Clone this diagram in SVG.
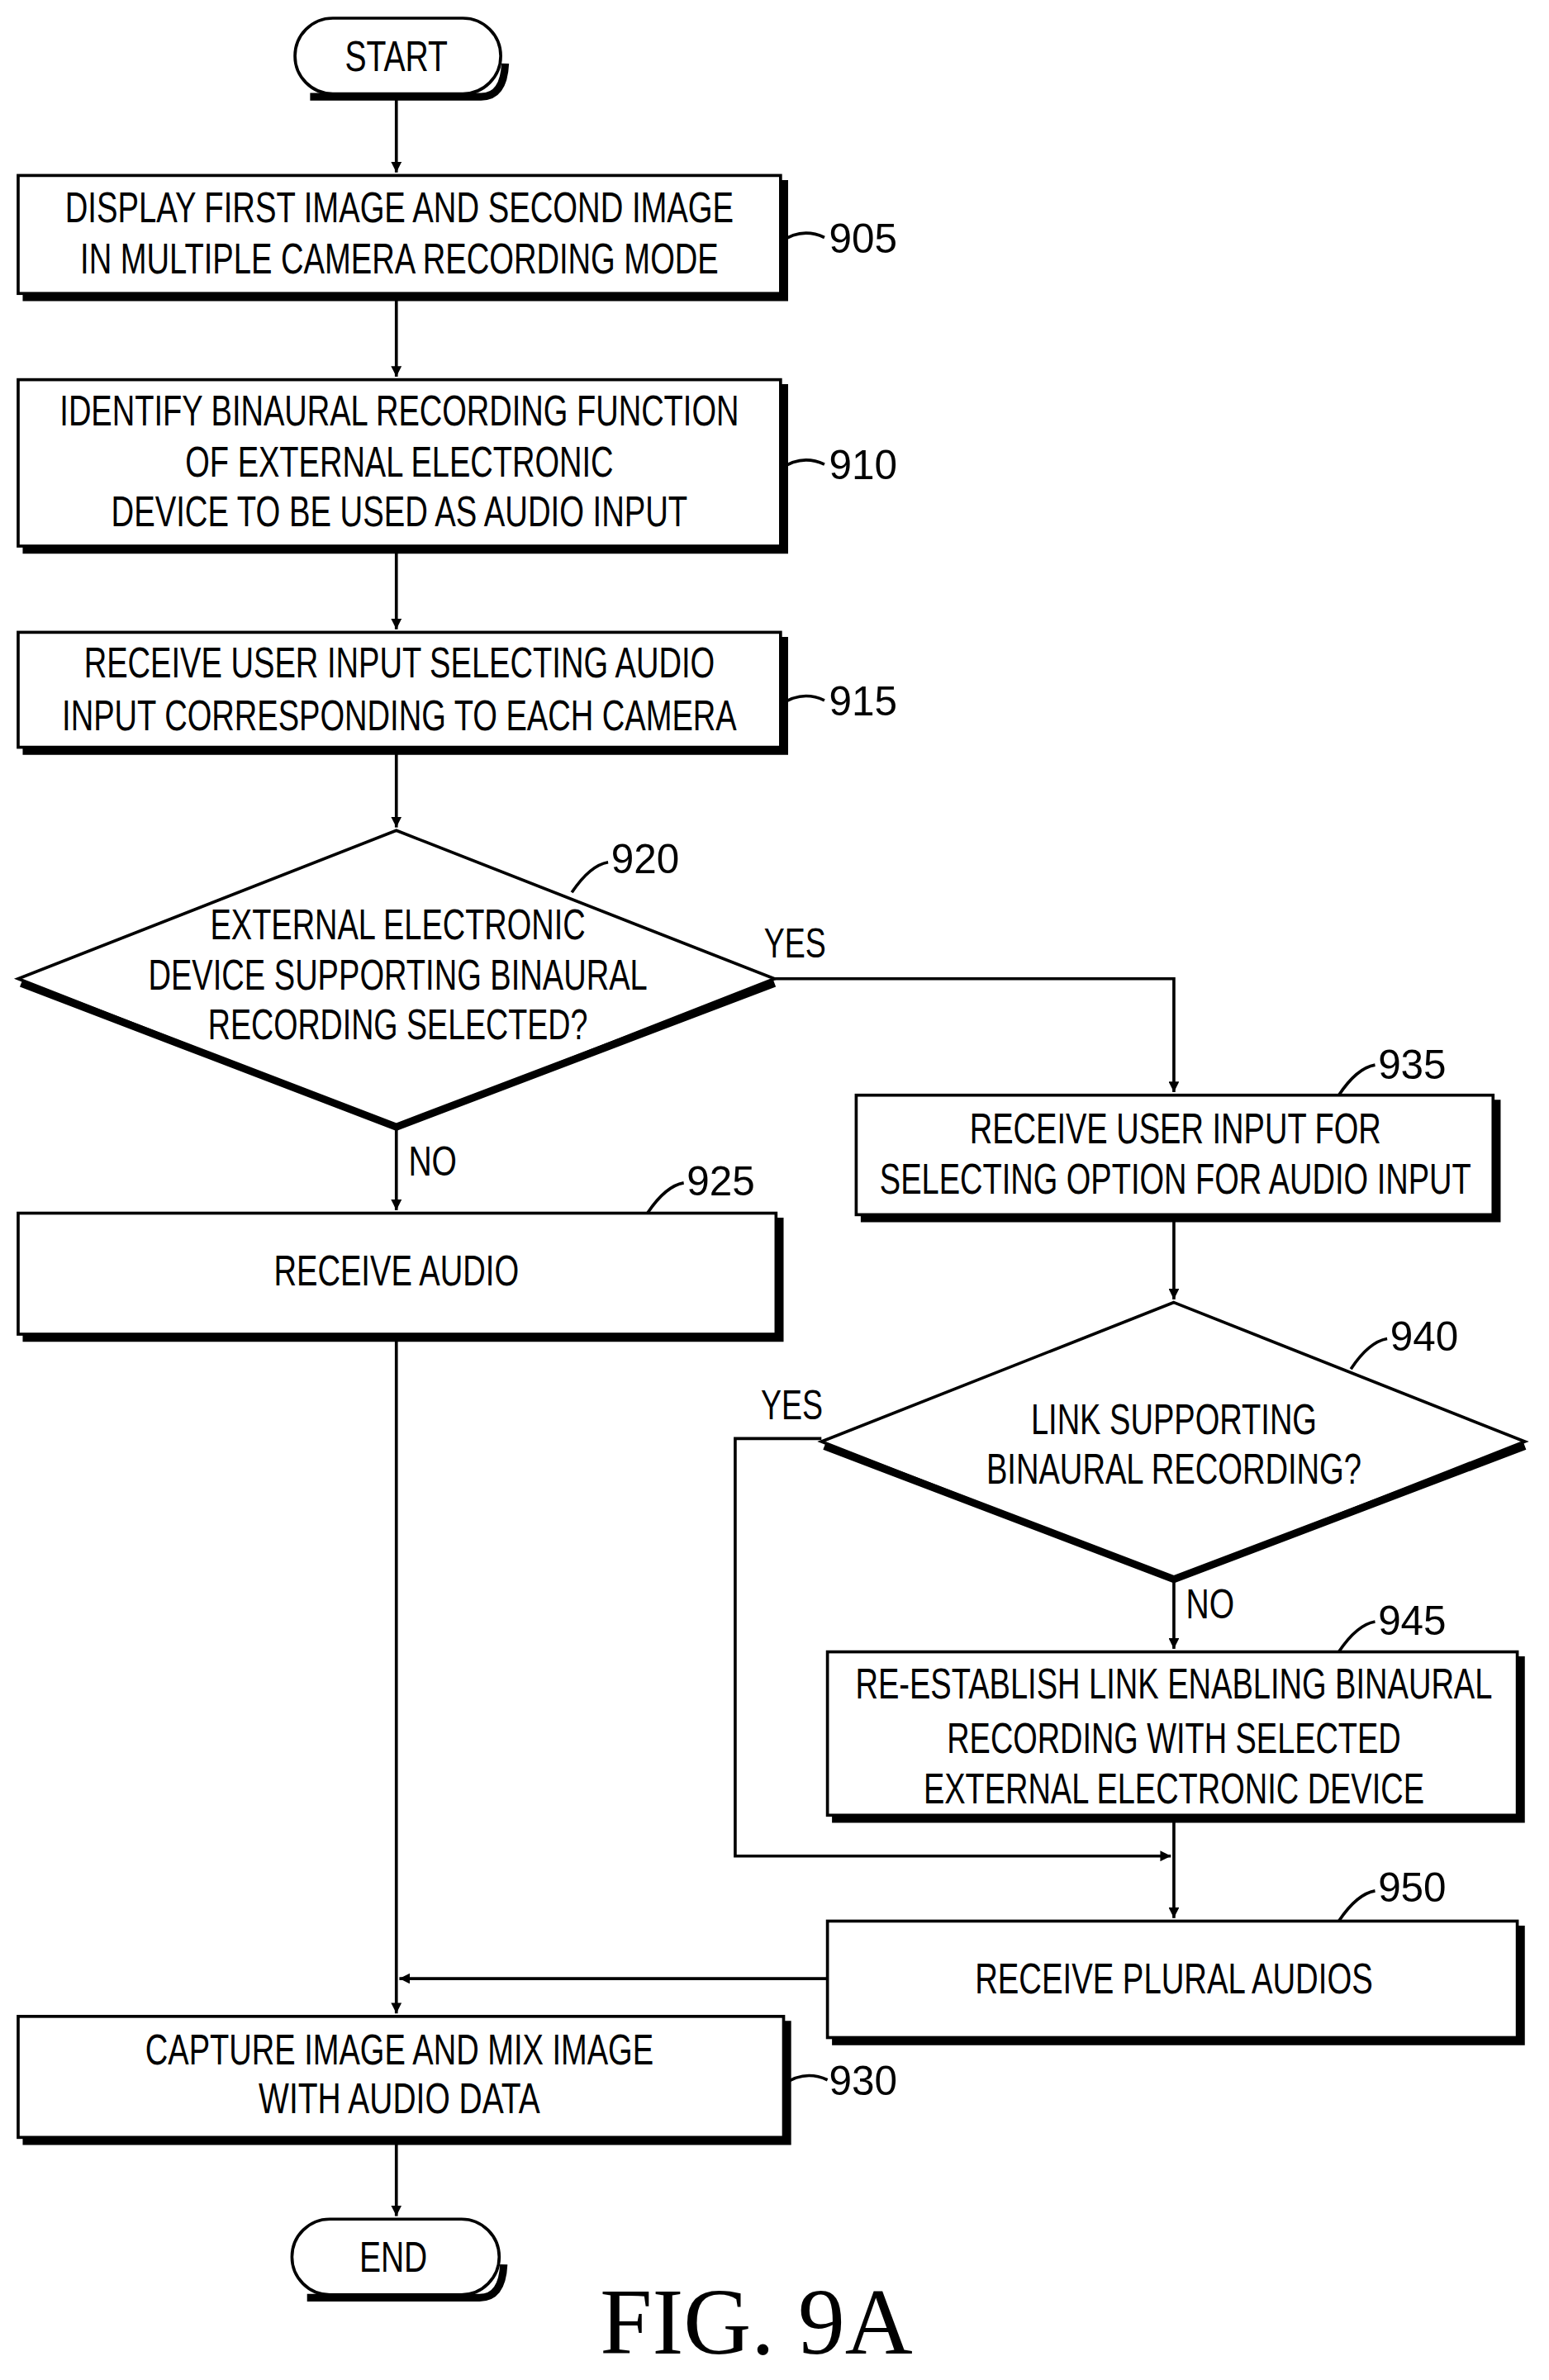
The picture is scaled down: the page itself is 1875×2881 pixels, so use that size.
<svg xmlns="http://www.w3.org/2000/svg" width="1875" height="2881" viewBox="0 0 1875 2881">
<style>
.b{fill:#fff;stroke:#000;stroke-width:2}
.s{fill:none;stroke:#000;stroke-width:5}
.t{font-family:"Liberation Sans Narrow","Liberation Sans",Arial,sans-serif;font-size:28px;text-anchor:middle;fill:#000}
.l{font-family:"Liberation Sans Narrow","Liberation Sans",Arial,sans-serif;font-size:27px;fill:#000}
.c{fill:none;stroke:#000;stroke-width:2}
</style>
<defs><marker id="a" viewBox="0 0 10 10" refX="10" refY="5" markerWidth="7" markerHeight="7" orient="auto" markerUnits="userSpaceOnUse"><path d="M0,0L10,5L0,10z"/></marker></defs>
<rect width="1875" height="2881" fill="#fff"/>
<g transform="scale(1.8311)">
<g id="connectors" class="c">
<path d="M262,62V114" marker-end="url(#a)"/>
<path d="M262,196V249" marker-end="url(#a)"/>
<path d="M262,363V416" marker-end="url(#a)"/>
<path d="M262,496V547" marker-end="url(#a)"/>
<path d="M512,647H776V722" marker-end="url(#a)"/>
<path d="M262,745V800" marker-end="url(#a)"/>
<path d="M262,884V1331" marker-end="url(#a)"/>
<path d="M776,805V859" marker-end="url(#a)"/>
<path d="M543,951H486V1227H774" marker-end="url(#a)"/>
<path d="M776,1044V1090" marker-end="url(#a)"/>
<path d="M776,1202V1268" marker-end="url(#a)"/>
<path d="M547,1308H264" marker-end="url(#a)"/>
<path d="M262,1415V1465" marker-end="url(#a)"/>
<path d="M516,160q14,-10 29,-3"/><path d="M516,310q14,-10 29,-3"/><path d="M516,466q14,-10 29,-3"/>
<path d="M378,590q12,-18 24,-20"/><path d="M885,724q12,-18 24,-20"/><path d="M428,802q12,-18 24,-20"/>
<path d="M893,905q12,-18 24,-20"/><path d="M885,1092q12,-18 24,-20"/><path d="M885,1270q12,-18 24,-20"/>
<path d="M518,1378q14,-10 29,-3"/>
</g>
<text class="l" x="505" y="633" textLength="41" lengthAdjust="spacingAndGlyphs">YES</text>
<text class="l" x="270" y="777" textLength="32" lengthAdjust="spacingAndGlyphs">NO</text>
<text class="l" x="503" y="938" textLength="41" lengthAdjust="spacingAndGlyphs">YES</text>
<text class="l" x="784" y="1070" textLength="32" lengthAdjust="spacingAndGlyphs">NO</text>
<g id="start"><rect class="b" x="195" y="12" width="136" height="50" rx="25"/><path class="s" d="M205,64H318q15,0 16,-22"/><text class="t" x="262" y="47" textLength="68" lengthAdjust="spacingAndGlyphs">START</text></g>
<g id="n905"><rect class="b" x="12" y="116" width="504" height="78"/><path class="s" d="M15,196.5H518.5V119"/>
<text class="t" x="264" y="147" textLength="442" lengthAdjust="spacingAndGlyphs">DISPLAY FIRST IMAGE AND SECOND IMAGE</text>
<text class="t" x="264" y="181" textLength="422" lengthAdjust="spacingAndGlyphs">IN MULTIPLE CAMERA RECORDING MODE</text>
<text class="l" x="548" y="167">905</text></g>
<g id="n910"><rect class="b" x="12" y="251" width="504" height="110"/><path class="s" d="M15,363.5H518.5V254"/>
<text class="t" x="264" y="281" textLength="449" lengthAdjust="spacingAndGlyphs">IDENTIFY BINAURAL RECORDING FUNCTION</text>
<text class="t" x="264" y="315" textLength="283" lengthAdjust="spacingAndGlyphs">OF EXTERNAL ELECTRONIC</text>
<text class="t" x="264" y="348" textLength="381" lengthAdjust="spacingAndGlyphs">DEVICE TO BE USED AS AUDIO INPUT</text>
<text class="l" x="548" y="317">910</text></g>
<g id="n915"><rect class="b" x="12" y="418" width="504" height="76"/><path class="s" d="M15,496.5H518.5V421"/>
<text class="t" x="264" y="448" textLength="417" lengthAdjust="spacingAndGlyphs">RECEIVE USER INPUT SELECTING AUDIO</text>
<text class="t" x="264" y="483" textLength="446" lengthAdjust="spacingAndGlyphs">INPUT CORRESPONDING TO EACH CAMERA</text>
<text class="l" x="548" y="473">915</text></g>
<g id="n920"><path class="b" d="M262,549L512,647L262,745L12,647Z"/><path class="s" d="M14,650L262,745L512,650"/>
<text class="t" x="263" y="621" textLength="248" lengthAdjust="spacingAndGlyphs">EXTERNAL ELECTRONIC</text>
<text class="t" x="263" y="654" textLength="330" lengthAdjust="spacingAndGlyphs">DEVICE SUPPORTING BINAURAL</text>
<text class="t" x="263" y="687" textLength="251" lengthAdjust="spacingAndGlyphs">RECORDING SELECTED?</text>
<text class="l" x="404" y="577">920</text></g>
<g id="n935"><rect class="b" x="566" y="724" width="421" height="79"/><path class="s" d="M569,805.5H989.5V727"/>
<text class="t" x="777" y="756" textLength="272" lengthAdjust="spacingAndGlyphs">RECEIVE USER INPUT FOR</text>
<text class="t" x="777" y="789" textLength="391" lengthAdjust="spacingAndGlyphs">SELECTING OPTION FOR AUDIO INPUT</text>
<text class="l" x="911" y="713">935</text></g>
<g id="n925"><rect class="b" x="12" y="802" width="501" height="80"/><path class="s" d="M15,884.5H515.5V805"/>
<text class="t" x="262" y="850" textLength="162" lengthAdjust="spacingAndGlyphs">RECEIVE AUDIO</text>
<text class="l" x="454" y="790">925</text></g>
<g id="n940"><path class="b" d="M776,861L1008,953L776,1044L543,953Z"/><path class="s" d="M545,956L776,1044L1008,956"/>
<text class="t" x="776" y="948" textLength="189" lengthAdjust="spacingAndGlyphs">LINK SUPPORTING</text>
<text class="t" x="776" y="981" textLength="248" lengthAdjust="spacingAndGlyphs">BINAURAL RECORDING?</text>
<text class="l" x="919" y="893">940</text></g>
<g id="n945"><rect class="b" x="547" y="1092" width="456" height="108"/><path class="s" d="M550,1202.5H1005.5V1095"/>
<text class="t" x="776" y="1123" textLength="421" lengthAdjust="spacingAndGlyphs">RE-ESTABLISH LINK ENABLING BINAURAL</text>
<text class="t" x="776" y="1159" textLength="300" lengthAdjust="spacingAndGlyphs">RECORDING WITH SELECTED</text>
<text class="t" x="776" y="1192" textLength="331" lengthAdjust="spacingAndGlyphs">EXTERNAL ELECTRONIC DEVICE</text>
<text class="l" x="911" y="1081">945</text></g>
<g id="n950"><rect class="b" x="547" y="1270" width="456" height="77"/><path class="s" d="M550,1349.5H1005.5V1273"/>
<text class="t" x="776" y="1318" textLength="263" lengthAdjust="spacingAndGlyphs">RECEIVE PLURAL AUDIOS</text>
<text class="l" x="911" y="1257">950</text></g>
<g id="n930"><rect class="b" x="12" y="1333" width="506" height="80"/><path class="s" d="M15,1415.5H520.5V1336"/>
<text class="t" x="264" y="1365" textLength="336" lengthAdjust="spacingAndGlyphs">CAPTURE IMAGE AND MIX IMAGE</text>
<text class="t" x="264" y="1397" textLength="186" lengthAdjust="spacingAndGlyphs">WITH AUDIO DATA</text>
<text class="l" x="548" y="1385">930</text></g>
<g id="end"><rect class="b" x="193" y="1467" width="137" height="50" rx="25"/><path class="s" d="M203,1519H317q15,0 16,-22"/><text class="t" x="260" y="1502" textLength="45" lengthAdjust="spacingAndGlyphs">END</text></g>
<text x="500" y="1556" font-family="Liberation Serif,serif" font-size="62" text-anchor="middle">FIG. 9A</text>
</g>
</svg>
